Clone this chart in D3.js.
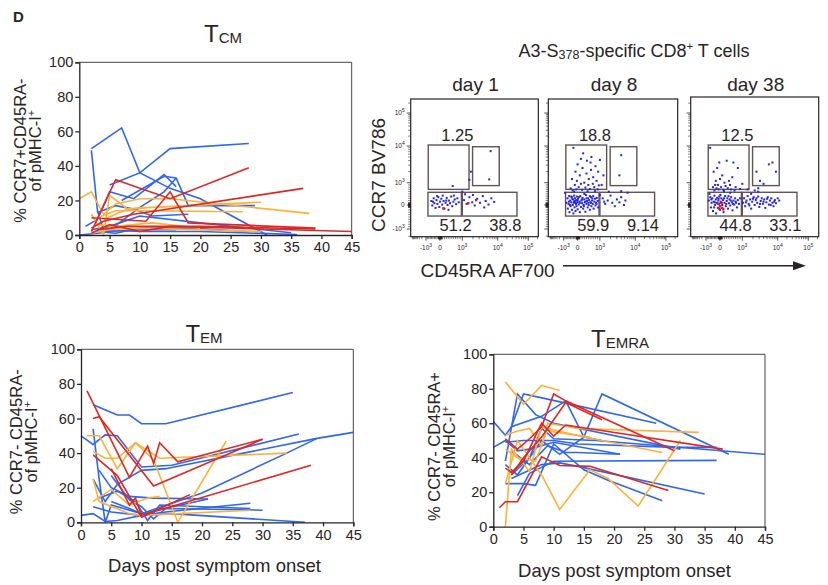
<!DOCTYPE html>
<html>
<head>
<meta charset="utf-8">
<script src="https://cdn.jsdelivr.net/npm/d3@7"></script>
<style>
body { margin: 0; background: #fff; }
svg text { font-family: "Liberation Sans", Arial, sans-serif; fill: #2a2424; }
</style>
</head>
<body>
<svg id="fig" width="828" height="585"></svg>
<script>
// ---- data ----
const dayTicks = [0, 5, 10, 15, 20, 25, 30, 35, 40, 45]
const pctTicks = [0, 20, 40, 60, 80, 100]

// [day, %] per donor, T_CM
const tcmBlue = [
  [[2,50],[7,62],[10,36],[15,50],[28,53]],
  [[2,49],[3,14],[4,3],[10,2],[20,2],[36,0.3]],
  [[5,29],[10,36],[15,27],[20,21],[31,0]],
  [[7,20],[14,34],[16,33],[18,17],[29,17]],
  [[1,5],[3,9],[5,25],[9,21],[14,35],[16,28]],
  [[3,13],[6,17],[9,15],[12,11],[18,12]],
  [[4,1],[7,8],[10,16],[14,25],[16,33]],
  [[2,3],[5,5],[10,11],[20,7],[35,1.3]],
  [[0,0],[3,1],[5,2],[10,3],[16,3]],
  [[3,2],[6,1],[10,4],[18,4],[28,2]]
]
const tcmRed = [
  [[2,2],[6,32],[15,21],[28,39]],
  [[2,10],[11,8],[15,25],[18,7],[39,4]],
  [[2,4],[4,8],[9,12],[37,27]],
  [[2,1],[5,6],[10,2],[15,5],[45,2]],
  [[3,3],[8,5],[20,5],[39,3.5]]
]
const tcmOrange = [
  [[0,21],[2,25],[4,12],[6,18],[10,21],[15,21],[38,12.5]],
  [[2,12],[4,0],[5,23],[8,15],[11,16]],
  [[3,10],[6,14],[10,14],[27,13.5]],
  [[4,9],[8,15],[12,16],[30,19]],
  [[2,1],[5,3],[10,4],[30,2]],
  [[3,6],[6,5],[12,7],[20,4]]
]

// T_EM
const temBlue = [
  [[2,68],[6,62],[8,62],[10,57],[14,57],[35,75]],
  [[0,50],[2,45],[4,50.5],[6,50],[10,32],[15,33],[36,51]],
  [[2,54],[3,25],[4,0],[5,10],[10,5],[21,13.5]],
  [[2,25],[4,12],[6,22],[10,30],[14,31],[39,48.5],[45,52]],
  [[0,4],[2,5],[4,0.5],[6,1],[10,4],[15,5],[37,0]],
  [[2,9],[5,6],[10,4],[14,6],[28,11]],
  [[3,30],[5,20],[8,15],[12,14],[21,13.5]],
  [[5,12],[8,8],[10,5],[20,17],[34,40],[39,48.5]],
  [[5,27],[8,13],[10,9],[12,2],[14,8],[30,7]],
  [[3,14],[6,18],[9,12],[11,1],[13,10],[20,9],[28,8]]
]
const temRed = [
  [[1,76],[8,26],[11,44],[12,34],[13,46],[16,35],[30,48]],
  [[2,60],[3,61],[12,21],[30,48]],
  [[2,39],[6,27],[10,3],[18,16]],
  [[5,31],[8,10],[9,14],[10,4],[38,33]]
]
const temOrange = [
  [[1,50],[3,50],[6,31],[9,46],[12,36],[16,0],[24,47]],
  [[2,41],[4,37],[6,37],[9,46],[13,37],[34,40]],
  [[2,25],[3,12],[8,5],[10,4],[28,7]],
  [[2,12],[5,19],[8,10],[11,14],[13,15]]
]

// T_EMRA
const temraBlue = [
  [[0,61],[2,53],[3,58],[8,64],[12,73],[15,52],[18,77],[39,42]],
  [[0,46],[2,50],[4,44],[6,45],[10,49],[21,42]],
  [[3,58],[5,77],[9,74],[27,60]],
  [[2,38],[4,77],[7,65],[10,60],[31,45]],
  [[2,25],[5,25],[7,24],[10,48],[15,33],[19,27],[28,15]],
  [[4,18],[6,31],[10,38],[37,38.5]],
  [[3,28],[8,36],[11,37],[14,35],[35,19]],
  [[2,36],[4,30],[8,50],[11,42],[15,52],[18,50]],
  [[3,30],[6,40],[8,57],[10,51],[17,50],[45,42]],
  [[2,49],[5,50],[10,50],[14,48],[30,46],[37,46]],
  [[3,44],[6,36],[9,47],[12,43],[14,43],[21,42]]
]
const temraRed = [
  [[1,11],[2,14.5],[4,14.5],[8,40.5],[11,35.5],[16,35],[29,21]],
  [[2,34],[3,31.5],[5,38],[8,60],[10,52.5],[12,59],[38,45]],
  [[2,51],[4,45],[6,51],[8,58],[10,77],[12,73],[30,44]],
  [[3,30],[5,40],[8,52],[12,72],[18,62]]
]
const temraOrange = [
  [[2,84],[5,71],[8,82],[11,79]],
  [[2,53],[4,55.5],[6,57],[8,47],[9,60],[14,57],[34,54.7]],
  [[2,0],[3,45],[6,32],[8,58],[10,55],[16,52]],
  [[2,25],[4,50],[8,30],[11,10],[16,33],[19,28],[24,12],[31,50]],
  [[2,45],[4,40],[7,38],[9,57],[15,52],[28,43]]
]

// flow plots, axis values in decades: -1 = -10^3, 0 = 0, 1 = 10^3, 2 = 10^4, 3 = 10^5
const flowDays = ['day 1', 'day 8', 'day 38']
const flowPct = [[1.25, 51.2, 38.8], [18.8, 59.9, 9.14], [12.5, 44.8, 33.1]]
const flowTicks = [-1, 0, 1, 2, 3]
const flowTickBase = ['-10', '0', '10', '10', '10']
const flowTickExp = ['3', '', '3', '4', '5']
// gates: [x0, x1, y0, y1]
const gates = [[-0.84,1.19,0.7,2.03],[1.29,2.05,0.87,1.98],[-0.86,0.96,-0.46,0.57],[1.0,2.63,-0.46,0.57]]

const flowDay1 = [
  [-0.62,0.18],[-0.55,-0.02],[-0.45,0.3],[-0.4,0.08],[-0.32,-0.12],[-0.25,0.22],[-0.18,0.05],[-0.12,0.35],
  [-0.05,-0.08],[0.0,0.15],[0.06,0.28],[0.1,0.02],[0.16,0.18],[0.2,-0.15],[0.25,0.1],[0.3,0.32],[0.34,0.0],
  [0.4,0.2],[0.45,0.08],[0.5,0.38],[0.55,-0.05],[0.6,0.15],[0.66,0.25],[0.72,0.04],[0.78,0.3],[0.84,0.12],
  [-0.2,0.4],[0.12,0.42],[0.38,-0.2],[0.62,0.42],[-0.5,0.15],[0.28,0.2],
  [1.05,0.22],[1.12,0.05],[1.2,0.35],[1.28,0.12],[1.35,-0.02],[1.42,0.28],[1.5,0.1],[1.58,0.4],[1.66,0.18],
  [1.74,0.02],[1.82,0.3],[1.9,0.14],[1.3,0.45],[1.08,0.48],[1.62,-0.1],
  [0.57,0.85],[1.24,1.3],[1.2,1.08],[1.76,1.09],[1.8,1.86],[1.0,0.6]
]
const flowRed1 = [[0.15,-0.14],[1.17,0.08],[1.39,0.22]]

const flowDay8 = [
  [-0.5,0.75],[-0.4,1.1],[-0.35,0.65],[-0.3,1.95],[-0.2,0.9],[-0.15,1.3],[-0.1,0.7],[-0.05,1.05],[0.0,1.5],
  [0.05,0.8],[0.1,1.2],[0.15,0.95],[0.2,0.68],[0.22,1.4],[0.3,1.0],[0.35,0.78],[0.4,1.25],[0.42,1.6],
  [0.48,0.9],[0.5,1.1],[0.55,0.72],[0.6,1.35],[0.62,1.7],[0.68,0.95],[0.7,1.15],[0.75,0.8],[0.8,1.45],
  [0.85,1.05],[0.9,0.7],[0.92,1.3],[1.0,1.62],[1.05,0.9],[1.1,1.2],[0.25,1.8],[0.58,1.55],[-0.25,0.6],
  [0.45,0.62],[0.78,0.62],[0.95,0.88],[0.15,1.65],
  [-0.8,0.1],[-0.72,0.3],[-0.7,-0.15],[-0.65,0.05],[-0.6,0.4],[-0.58,-0.3],[-0.52,0.2],[-0.5,-0.05],
  [-0.45,0.12],[-0.42,0.35],[-0.4,-0.2],[-0.35,0.0],[-0.32,0.25],[-0.3,-0.35],[-0.28,0.1],[-0.25,0.42],
  [-0.22,-0.1],[-0.2,0.18],[-0.18,0.3],[-0.15,-0.25],[-0.12,0.05],[-0.1,0.22],[-0.08,-0.05],[-0.05,0.38],
  [-0.02,0.12],[0.0,-0.18],[0.02,0.28],[0.05,0.02],[0.08,0.15],[0.1,-0.3],[0.12,0.4],[0.15,-0.08],
  [0.17,0.2],[0.2,0.08],[0.22,0.32],[0.25,-0.15],[0.27,0.0],[0.3,0.25],[0.32,0.12],[0.35,-0.28],
  [0.37,0.45],[0.4,0.05],[0.42,0.18],[0.45,-0.1],[0.47,0.3],[0.5,0.0],[0.52,0.22],[0.55,-0.2],
  [0.57,0.12],[0.6,0.35],[0.62,-0.05],[0.65,0.2],[0.68,0.05],[0.7,0.4],[0.72,-0.15],[0.75,0.15],
  [0.78,0.28],[0.8,-0.02],[0.83,0.1],[0.86,0.32],[0.9,0.18],[0.92,-0.1],[-0.62,0.15],[-0.38,0.28],
  [-0.15,0.1],[0.06,0.35],[0.28,-0.05],[0.48,0.1],[0.66,0.3],[0.85,0.05],[-0.55,0.0],[-0.25,0.15],
  [0.0,0.2],[0.2,0.25],[0.4,0.3],[0.6,0.1],[-0.45,0.38],[0.1,0.1],[0.35,0.15],[0.55,0.4],[-0.9,0.55],
  [0.3,0.5],[1.0,0.45],
  [1.08,0.3],[1.15,0.05],[1.22,0.2],[1.3,0.42],[1.35,0.1],[1.42,-0.05],[1.48,0.25],[1.55,0.12],
  [1.6,0.35],[1.68,0.0],[1.72,0.2],[1.25,0.6],[1.6,0.62],[1.78,0.55],[1.12,0.15],
  [1.6,1.75],[1.55,1.2]
]
const flowRed8 = []

const flowDay38 = [
  [-0.7,1.95],[-0.5,0.8],[-0.45,1.3],[-0.4,0.65],[-0.3,1.05],[-0.25,0.75],[-0.2,1.4],[-0.15,0.9],
  [-0.1,0.7],[0.0,1.1],[0.05,0.8],[0.1,1.2],[0.15,0.68],[0.2,1.0],[0.25,0.85],[0.3,1.6],[0.35,0.75],
  [0.4,1.05],[0.45,0.9],[0.5,0.7],[0.6,1.55],[0.7,0.8],[0.8,1.4],[0.9,0.72],[1.0,0.95],[-0.05,1.55],
  [0.55,1.15],[-0.35,0.9],[0.65,0.65],[0.18,0.62],
  [1.4,1.3],[1.5,1.05],[1.6,0.95],[1.75,1.5],[1.85,1.55],[1.95,1.3],[1.45,0.75],[1.35,0.65],
  [-0.8,0.2],[-0.7,0.35],[-0.65,-0.1],[-0.6,0.1],[-0.55,0.3],[-0.5,-0.25],[-0.45,0.15],[-0.4,0.42],
  [-0.35,0.0],[-0.3,0.25],[-0.28,-0.35],[-0.25,0.1],[-0.2,0.32],[-0.15,-0.12],[-0.12,0.2],[-0.08,0.05],
  [-0.05,0.38],[0.0,-0.2],[0.03,0.15],[0.06,0.3],[0.1,0.0],[0.13,0.22],[0.16,-0.3],[0.2,0.1],[0.23,0.4],
  [0.26,-0.05],[0.3,0.18],[0.33,0.3],[0.36,-0.15],[0.4,0.08],[0.43,0.25],[0.46,-0.02],[0.5,0.35],
  [0.53,0.12],[0.56,-0.22],[0.6,0.2],[0.64,0.02],[0.68,0.3],[0.72,0.1],[0.76,-0.1],[0.8,0.22],[0.85,0.05],
  [0.9,0.3],[-0.62,0.25],[-0.38,0.12],[-0.18,0.08],[0.08,0.1],[0.28,0.05],[0.48,0.2],[0.7,0.15],
  [-0.1,0.28],[0.18,0.3],[0.38,0.4],[0.58,0.05],[-0.42,-0.1],[0.02,0.45],[-0.75,0.5],[0.45,0.55],
  [1.02,0.1],[1.05,0.3],[1.08,-0.05],[1.12,0.2],[1.15,0.4],[1.18,0.05],[1.22,0.25],[1.25,-0.15],
  [1.28,0.15],[1.32,0.35],[1.35,0.0],[1.38,0.22],[1.42,0.1],[1.45,0.38],[1.48,-0.08],[1.52,0.18],
  [1.55,0.3],[1.58,0.05],[1.62,0.25],[1.65,-0.12],[1.68,0.12],[1.72,0.35],[1.75,0.02],[1.78,0.2],
  [1.82,0.3],[1.85,0.1],[1.88,-0.05],[1.92,0.22],[1.95,0.08],[2.0,0.3],[1.1,0.12],[1.3,0.28],[1.5,0.05],
  [1.7,0.28],[1.9,0.15],[1.2,-0.02],[1.4,0.3],[1.6,0.15],[1.8,0.0],[1.25,0.5],[1.45,0.6],[1.15,0.7],
  [2.05,0.2]
]
const flowRed38 = [[-0.1,0.05],[0.0,-0.05],[0.05,0.1],[0.1,-0.12],[0.15,-0.18],[-0.05,-0.15]]

// ---- drawing ----
const svg = d3.select('#fig')
const ink = '#2a2424'
const colors = {blue: '#2f66f2', red: '#e0271f', orange: '#fcb23a'}

svg.append('text').attr('x', 13).attr('y', 22).attr('font-size', 15)
  .attr('font-weight', 'bold').text('D')

function linePanel(cfg) {
  let x = d3.scaleLinear().domain([0, 45]).range([cfg.x0, cfg.x1])
  let y = d3.scaleLinear().domain([0, 100]).range([cfg.y1, cfg.y0])
  let g = svg.append('g')

  // frame (top & right)
  g.append('path')
    .attr('d', `M${x(0)},${y(100)}H${x(45)}V${y(0)}`)
    .attr('fill', 'none').attr('stroke', '#4a4242').attr('stroke-width', 1)

  let line = d3.line().x(d => x(d[0])).y(d => y(d[1]))
  let series = [['blue', cfg.blue], ['orange', cfg.orange], ['red', cfg.red]]
  series.forEach(([c, arr]) => {
    g.selectAll(null).data(arr).enter().append('path')
      .attr('d', line)
      .attr('fill', 'none')
      .attr('stroke', colors[c])
      .attr('stroke-width', 1.6)
      .attr('stroke-linejoin', 'miter')
  })

  let ax = g.append('g').attr('transform', `translate(0,${y(0)})`)
    .call(d3.axisBottom(x).tickValues(dayTicks).tickSize(4).tickPadding(3))
  let ay = g.append('g').attr('transform', `translate(${x(0)},0)`)
    .call(d3.axisLeft(y).tickValues(pctTicks).tickSize(4).tickPadding(2))
  ;[ax, ay].forEach(a => {
    a.selectAll('path, line').attr('stroke', ink).attr('stroke-width', 1.3)
    a.selectAll('text').attr('font-size', 14.5).attr('fill', ink)
      .style('font-family', '"Liberation Sans", Arial, sans-serif')
  })

  // title  T + subscript
  let t = g.append('text').attr('x', cfg.tx).attr('y', cfg.ty)
    .attr('text-anchor', 'middle').attr('font-size', 24)
  t.append('tspan').text('T')
  t.append('tspan').attr('font-size', 15).attr('dy', 1.6).text(cfg.sub)

  // y label, two lines
  let cy = (cfg.y0 + cfg.y1) / 2 + cfg.ly
  cfg.ylab.forEach((s, i) => {
    let lt = g.append('text')
      .attr('transform', `translate(${cfg.lx[i]},${cy}) rotate(-90)`)
      .attr('text-anchor', 'middle').attr('font-size', 16.5)
    lt.append('tspan').text(s[0])
    if (s[1]) lt.append('tspan').attr('font-size', 11).attr('dy', -6).text(s[1])
  })

  if (cfg.xlab) {
    g.append('text').attr('x', cfg.xlx).attr('y', cfg.xly)
      .attr('text-anchor', 'middle').attr('font-size', 18.5).text(cfg.xlab)
  }
}

linePanel({x0: 79.3, x1: 351.7, y0: 62.3, y1: 235, blue: tcmBlue, red: tcmRed, orange: tcmOrange,
  tx: 223, ty: 41.7, sub: 'CM', lx: [26, 41], ly: 2,
  ylab: [['% CCR7+CD45RA-'], ['of pMHC-I', '+']]})
linePanel({x0: 81, x1: 353.3, y0: 349.3, y1: 522.3, blue: temBlue, red: temRed, orange: temOrange,
  tx: 204, ty: 341.7, sub: 'EM', lx: [21.5, 37], ly: 6,
  ylab: [['% CCR7- CD45RA-'], ['of pMHC-I', '+']], xlab: 'Days post symptom onset', xlx: 214.5, xly: 572})
linePanel({x0: 493.3, x1: 765, y0: 354.3, y1: 526.7, blue: temraBlue, red: temraRed, orange: temraOrange,
  tx: 620, ty: 346.7, sub: 'EMRA', lx: [439.5, 455], ly: 6,
  ylab: [['% CCR7- CD45RA+'], ['of pMHC-I', '+']], xlab: 'Days post symptom onset', xlx: 624.5, xly: 577})

// ---- flow cytometry panels ----
const flowPanels = [
  {x: 410.7, top: 99, w: 127.6, dots: flowDay1, red: flowRed1, labels: true},
  {x: 548.3, top: 99, w: 129.4, dots: flowDay8, red: flowRed8},
  {x: 690.7, top: 97, w: 128, dots: flowDay38, red: flowRed38}
]
const flowBottom = 236.7
const yF = d3.scaleLinear().domain(flowTicks).range([229, 205, 182.7, 146, 113])

// minor tick values, in decades
function toDec(v) {
  return Math.abs(v) < 1000 ? v / 1000 : Math.sign(v) * (Math.log10(Math.abs(v)) - 2)
}
const minorRaw = [].concat(
  d3.range(-90, 100, 10), d3.range(-900, 1000, 100),
  d3.range(2000, 10000, 1000), d3.range(20000, 100000, 10000), [200000],
  d3.range(-9000, -1000, 1000))
const minorDec = minorRaw.map(toDec)

function supLabel(sel, i) {
  sel.append('tspan').text(flowTickBase[i])
  if (flowTickExp[i]) sel.append('tspan').attr('font-size', 5).attr('dy', -3).text(flowTickExp[i])
}

flowPanels.forEach((p, k) => {
  let g = svg.append('g')
  let xF = d3.scaleLinear().domain(flowTicks)
    .range([p.x + 15.3, p.x + 29.3, p.x + 51.6, p.x + 87, p.x + 117.6])
  let left = p.x, right = p.x + p.w
  let loX = xF.invert(left), hiX = xF.invert(right)
  let loY = yF.invert(flowBottom), hiY = yF.invert(p.top)

  g.append('rect').attr('x', left).attr('y', p.top).attr('width', p.w)
    .attr('height', flowBottom - p.top).attr('fill', '#fff')
    .attr('stroke', ink).attr('stroke-width', 1.2)

  // ticks
  let xm = minorDec.filter(d => d > loX && d < hiX)
  g.selectAll(null).data(xm).enter().append('line')
    .attr('x1', d => xF(d)).attr('x2', d => xF(d))
    .attr('y1', flowBottom).attr('y2', flowBottom + 2.5)
    .attr('stroke', ink).attr('stroke-width', 0.6)
  g.selectAll(null).data(flowTicks).enter().append('line')
    .attr('x1', d => xF(d)).attr('x2', d => xF(d))
    .attr('y1', flowBottom).attr('y2', flowBottom + 4)
    .attr('stroke', ink).attr('stroke-width', 0.8)
  let ym = minorDec.filter(d => d > loY && d < hiY)
  g.selectAll(null).data(ym).enter().append('line')
    .attr('y1', d => yF(d)).attr('y2', d => yF(d))
    .attr('x1', left).attr('x2', left - 2.5)
    .attr('stroke', ink).attr('stroke-width', 0.6)
  g.selectAll(null).data(flowTicks).enter().append('line')
    .attr('y1', d => yF(d)).attr('y2', d => yF(d))
    .attr('x1', left).attr('x2', left - 4)
    .attr('stroke', ink).attr('stroke-width', 0.8)

  flowTicks.forEach((d, i) => {
    let t = g.append('text').attr('x', xF(d)).attr('y', 250)
      .attr('text-anchor', 'middle').attr('font-size', 6.5)
    supLabel(t, i)
    if (p.labels) {
      let s = g.append('text').attr('x', left - 6).attr('y', yF(d) + 2)
        .attr('text-anchor', 'end').attr('font-size', 6.5)
      supLabel(s, i)
    }
  })

  // gates
  g.selectAll(null).data(gates).enter().append('rect')
    .attr('x', d => xF(d[0])).attr('y', d => yF(d[3]))
    .attr('width', d => xF(d[1]) - xF(d[0])).attr('height', d => yF(d[2]) - yF(d[3]))
    .attr('fill', 'none').attr('stroke', '#5e5654').attr('stroke-width', 1.4)

  // events
  g.selectAll(null).data(p.dots).enter().append('rect')
    .attr('x', d => xF(d[0]) - 1).attr('y', d => yF(d[1]) - 1)
    .attr('width', 2).attr('height', 2).attr('fill', '#2424e6')
  g.selectAll(null).data(p.red).enter().append('rect')
    .attr('x', d => xF(d[0]) - 1.2).attr('y', d => yF(d[1]) - 1.2)
    .attr('width', 2.4).attr('height', 2.4).attr('fill', '#e01818')

  // gate percentages
  let pct = flowPct[k]
  g.append('text').attr('x', xF(0.78)).attr('y', yF(gates[0][3]) - 4)
    .attr('text-anchor', 'middle').attr('font-size', 16.5).text(pct[0])
  g.append('text').attr('x', xF(0.7)).attr('y', yF(gates[2][2]) + 14.5)
    .attr('text-anchor', 'middle').attr('font-size', 16.5).text(pct[1])
  g.append('text').attr('x', xF(2.25)).attr('y', yF(gates[2][2]) + 14.5)
    .attr('text-anchor', 'middle').attr('font-size', 16.5).text(pct[2])

  g.append('text').attr('x', (left + right) / 2 + 1).attr('y', 90.5)
    .attr('text-anchor', 'middle').attr('font-size', 19).text(flowDays[k])
})

// flow titles and axis names
let ft = svg.append('text').attr('x', 634).attr('y', 57)
  .attr('text-anchor', 'middle').attr('font-size', 18)
ft.append('tspan').text('A3-S')
ft.append('tspan').attr('font-size', 12.5).attr('dy', 2).text('378')
ft.append('tspan').attr('dy', -2).text('-specific CD8')
ft.append('tspan').attr('font-size', 11.5).attr('dy', -7).text('+')
ft.append('tspan').attr('dy', 7).text(' T cells')

svg.append('text').attr('transform', 'translate(384.5,175) rotate(-90)')
  .attr('text-anchor', 'middle').attr('font-size', 19).text('CCR7 BV786')
svg.append('text').attr('x', 420.5).attr('y', 276.5)
  .attr('font-size', 19).text('CD45RA AF700')
svg.append('line').attr('x1', 563).attr('x2', 795).attr('y1', 265.7).attr('y2', 265.7)
  .attr('stroke', ink).attr('stroke-width', 1.6)
svg.append('path').attr('d', 'M793,261.2L806,265.7L793,270.2Z').attr('fill', ink)
</script>
</body>
</html>
